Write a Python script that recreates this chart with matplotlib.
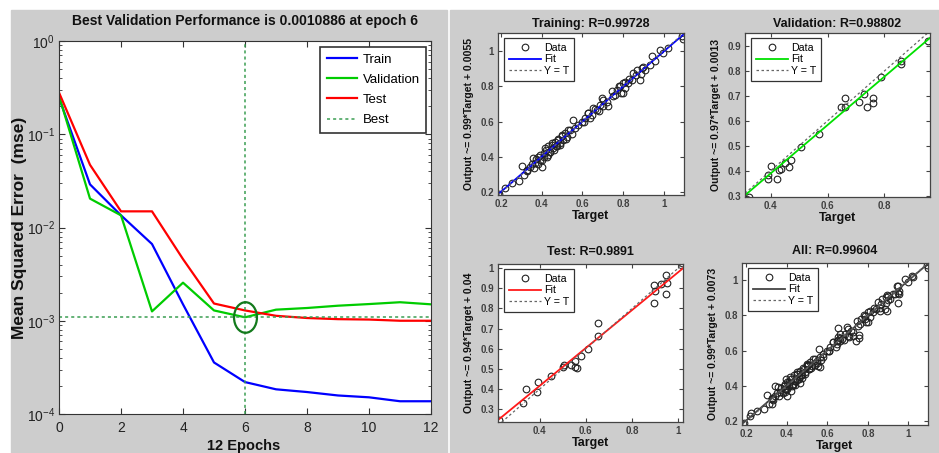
import numpy as np
import matplotlib
matplotlib.use('Agg')
import matplotlib.pyplot as plt
from matplotlib.markers import MarkerStyle
from matplotlib.transforms import Affine2D
from matplotlib.patches import Rectangle

# ---- performance curve (log mse per epoch) ----
epochs = [0, 1, 2, 3, 4, 5, 6, 7, 8, 9, 10, 11, 12]
train_mse = [0.247, 0.029, 0.0135, 0.00665, 0.0015, 0.000357, 0.00022, 0.000184,
             0.000172, 0.000158, 0.000151, 0.000137, 0.000137]
val_mse = [0.258, 0.0204, 0.0135, 0.00126, 0.00256, 0.00129, 0.0010886, 0.001315,
           0.00137, 0.00145, 0.00151, 0.00158, 0.0015]
test_mse = [0.28, 0.047, 0.0149, 0.0149, 0.00458, 0.00153, 0.00129, 0.00113,
            0.00107, 0.00104, 0.00103, 0.0010, 0.0010]
best_epoch = 6
best_perf = 0.0010886

# ---- regression data (target, output) ----
train_target = [0.19, 0.218, 0.254, 0.286, 0.303, 0.311, 0.327, 0.343, 0.357, 0.368,
                0.384, 0.393, 0.401, 0.409, 0.417, 0.425, 0.433, 0.442, 0.45, 0.458,
                0.466, 0.474, 0.482, 0.491, 0.499, 0.507, 0.515, 0.523, 0.54, 0.556,
                0.564, 0.58, 0.597, 0.613, 0.629, 0.646, 0.654, 0.67, 0.687, 0.695,
                0.703, 0.719, 0.728, 0.744, 0.752, 0.768, 0.785, 0.801, 0.809, 0.826,
                0.842, 0.85, 0.866, 0.883, 0.891, 0.907, 0.932, 0.945, 0.956, 0.981,
                0.997, 1.022, 1.092, 1.095,
                0.33, 0.35, 0.36, 0.37, 0.38, 0.39, 0.40, 0.41, 0.42, 0.43,
                0.44, 0.45, 0.46, 0.47, 0.48, 0.49, 0.50, 0.52, 0.53, 0.55,
                0.61, 0.63, 0.64, 0.66, 0.68, 0.70, 0.76, 0.78, 0.79, 0.80,
                0.81, 0.83, 0.87, 0.89, 0.90]
train_output = [0.19, 0.2265, 0.255, 0.266, 0.349, 0.298, 0.327, 0.345, 0.393, 0.364,
                0.402, 0.383, 0.345, 0.421, 0.449, 0.402, 0.459, 0.43, 0.477, 0.449,
                0.487, 0.459, 0.496, 0.477, 0.525, 0.496, 0.534, 0.515, 0.553, 0.61,
                0.562, 0.581, 0.6, 0.619, 0.647, 0.638, 0.676, 0.666, 0.694, 0.732,
                0.685, 0.713, 0.685, 0.77, 0.742, 0.779, 0.798, 0.76, 0.826, 0.817,
                0.836, 0.874, 0.864, 0.836, 0.902, 0.893, 0.921, 0.968, 0.94, 1.006,
                0.987, 1.015, 1.085, 1.066,
                0.32, 0.36, 0.34, 0.39, 0.36, 0.41, 0.38, 0.40, 0.44, 0.41,
                0.43, 0.47, 0.44, 0.46, 0.50, 0.47, 0.52, 0.50, 0.55, 0.53,
                0.60, 0.65, 0.62, 0.67, 0.66, 0.72, 0.75, 0.80, 0.76, 0.82,
                0.79, 0.84, 0.89, 0.87, 0.91]
val_target = [0.325, 0.39, 0.392, 0.401, 0.422, 0.429, 0.438, 0.452, 0.464, 0.473,
              0.508, 0.569, 0.648, 0.66, 0.662, 0.709, 0.728, 0.739, 0.758, 0.758,
              0.788, 0.858, 0.858, 0.952]
val_output = [0.297, 0.384, 0.368, 0.42, 0.369, 0.404, 0.407, 0.431, 0.417, 0.444,
              0.497, 0.548, 0.655, 0.693, 0.655, 0.675, 0.707, 0.657, 0.69, 0.671,
              0.777, 0.841, 0.827, 0.921]
test_target = [0.2245, 0.328, 0.342, 0.39, 0.393, 0.45, 0.501, 0.504, 0.537, 0.551,
               0.555, 0.561, 0.58, 0.609, 0.652, 0.652, 0.896, 0.896, 0.9, 0.925,
               0.947, 0.947, 0.95, 1.016]
test_output = [0.247, 0.333, 0.401, 0.384, 0.437, 0.465, 0.512, 0.517, 0.517, 0.54,
               0.512, 0.507, 0.565, 0.6, 0.661, 0.73, 0.826, 0.917, 0.887, 0.922,
               0.872, 0.967, 0.926, 1.025]
all_target = train_target + val_target + test_target
all_output = train_output + val_output + test_output

panel_titles = ['Training: R=0.99728', 'Validation: R=0.98802', 'Test: R=0.9891', 'All: R=0.99604']
fit_slopes = [0.99, 0.97, 0.94, 0.99]
fit_icpts = [0.0055, 0.0013, 0.04, 0.0073]
fit_labels = ['Output ~= 0.99*Target + 0.0055', 'Output ~= 0.97*Target + 0.0013',
              'Output ~= 0.94*Target + 0.04', 'Output ~= 0.99*Target + 0.0073']

W, H = 939, 453
SANS = ['Liberation Sans', 'DejaVu Sans']
GRAY = '#cdcdcd'


def box(x0, y0, x1, y1):
    # pixel box (top-left origin) -> figure fraction
    return [x0 / W, 1 - y1 / H, (x1 - x0) / W, (y1 - y0) / H]


fig = plt.figure(figsize=(W / 100, H / 100), dpi=100)
fig.patch.set_facecolor('white')
fig.patches.append(Rectangle((11 / W, 0), (447 - 11) / W, 1 - 10 / H,
                             transform=fig.transFigure, color=GRAY, zorder=-5))
fig.patches.append(Rectangle((450 / W, 0), (W - 450) / W, 1 - 10 / H,
                             transform=fig.transFigure, color=GRAY, zorder=-5))

# ---------------- performance plot ----------------
ax = fig.add_axes(box(59, 41, 431, 414))
ax.semilogy(epochs, train_mse, color='#0000ff', lw=1.6, label='Train')
ax.semilogy(epochs, val_mse, color='#00cc00', lw=1.6, label='Validation')
ax.semilogy(epochs, test_mse, color='#ff0000', lw=1.6, label='Test')
ax.axvline(best_epoch, color='#3a9e52', ls=(0, (2, 2)), lw=1.1, label='Best')
ax.axhline(best_perf, color='#3a9e52', ls=(0, (2, 2)), lw=1.1)
ax.plot(best_epoch, best_perf, ls='none',
        marker=MarkerStyle('o', transform=Affine2D().scale(0.75, 1.0)),
        ms=22, mfc='none', mec='#137a1c', mew=1.6)
ax.set_xlim(0, 12)
ax.set_ylim(1e-4, 1)
ax.set_xticks([0, 2, 4, 6, 8, 10, 12])
ax.set_yticks([1e-4, 1e-3, 1e-2, 1e-1, 1])
ax.tick_params(which='both', direction='in', top=True, right=True, colors='#333333')
ax.tick_params(which='major', length=4)
ax.tick_params(which='minor', length=2)
ax.tick_params(axis='x', pad=5)
ax.tick_params(axis='y', pad=3)
for lbl in ax.get_xticklabels() + ax.get_yticklabels():
    lbl.set_fontfamily(SANS)
    lbl.set_fontsize(10)
    lbl.set_color('#222222')
for sp in ax.spines.values():
    sp.set_color('#333333')
leg = ax.legend(loc='upper right', bbox_to_anchor=(0.987, 0.984), prop={'family': SANS, 'size': 9.5},
                fancybox=False, framealpha=1, edgecolor='#333333', handlelength=2.3,
                handletextpad=0.4, labelspacing=0.6, borderpad=0.5, borderaxespad=0)
leg.get_frame().set_linewidth(1.2)

fig.text(245 / W, 1 - 21 / H, 'Best Validation Performance is 0.0010886 at epoch 6',
         ha='center', va='center', family=SANS, weight='bold', fontsize=10, color='#111111')
fig.text(20 / W, 1 - 228 / H, 'Mean Squared Error  (mse)', rotation=90, ha='center', va='center',
         family=SANS, weight='bold', fontsize=12.5, color='#111111')
fig.text(244 / W, 1 - 439 / H, '12 Epochs', ha='center', va='top',
         family=SANS, weight='bold', fontsize=10.5, color='#111111')

# ---------------- regression plots ----------------
panels = [
    ((498, 33, 684, 195), train_target, train_output, '#0000ff', (0.185, 1.1), (0.185, 1.1),
     [0.2, 0.4, 0.6, 0.8, 1.0], [0.2, 0.4, 0.6, 0.8, 1.0], 4.5),
    ((745, 33, 930, 197), val_target, val_output, '#00e000', (0.31, 0.96), (0.295, 0.952),
     [0.4, 0.6, 0.8], [0.3, 0.4, 0.5, 0.6, 0.7, 0.8, 0.9], 4.5),
    ((498, 264, 683, 422), test_target, test_output, '#ff1a1a', (0.22, 1.02), (0.237, 1.02),
     [0.4, 0.6, 0.8, 1.0], [0.3, 0.4, 0.5, 0.6, 0.7, 0.8, 0.9, 1.0], 6.5),
    ((742, 263, 928, 425), all_target, all_output, '#444444', (0.178, 1.097), (0.178, 1.097),
     [0.2, 0.4, 0.6, 0.8, 1.0], [0.2, 0.4, 0.6, 0.8, 1.0], 6.5),
]

for i, (rect, tgt, out, col, xl, yl, xt, yt, tpad) in enumerate(panels):
    a = fig.add_axes(box(*rect))
    a.plot(tgt, out, 'o', ls='none', mfc='none', mec='#222222', ms=4.8, mew=0.8, label='Data')
    xs = np.array(xl)
    a.plot(xs, fit_slopes[i] * xs + fit_icpts[i], color=col, lw=1.3, label='Fit')
    a.plot(xs, xs, color='#666666', ls=(0, (2, 2)), lw=0.9, label='Y = T')
    a.set_xlim(xl)
    a.set_ylim(yl)
    a.set_xticks(xt)
    a.set_yticks(yt)
    a.set_xticklabels(['%g' % v for v in xt])
    a.set_yticklabels(['%g' % v for v in yt])
    a.tick_params(direction='in', top=True, right=True, length=3, pad=3,
                  colors='#444444', labelsize=7)
    for lbl in a.get_xticklabels() + a.get_yticklabels():
        lbl.set_fontfamily(SANS)
        lbl.set_fontweight('bold')
        lbl.set_color('#404040')
    for sp in a.spines.values():
        sp.set_color('#444444')
        sp.set_linewidth(0.9)
    a.set_title(panel_titles[i], family=SANS, weight='bold', fontsize=9, pad=tpad, color='#111111')
    a.set_xlabel('Target', family=SANS, weight='bold', fontsize=9, color='#111111')
    a.set_ylabel(fit_labels[i], family=SANS, weight='bold', fontsize=7.6, color='#111111')
    pw = rect[2] - rect[0]
    ph = rect[3] - rect[1]
    a.yaxis.set_label_coords(-24 / pw, 0.5)
    a.xaxis.set_label_coords(0.5, -15 / ph)
    lg = a.legend(loc='upper left', bbox_to_anchor=(6 / pw, 1 - 5 / ph),
                  prop={'family': SANS, 'size': 7.7}, fancybox=False, framealpha=1,
                  edgecolor='#333333', handlelength=3.0, handletextpad=0.3,
                  labelspacing=0.15, borderpad=0.45, borderaxespad=0)
    lg.get_frame().set_linewidth(0.9)

fig.savefig('out.png', dpi=100, facecolor='white')
